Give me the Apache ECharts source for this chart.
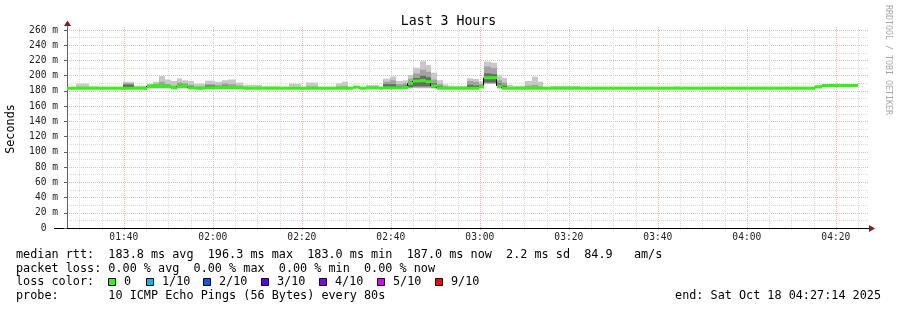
<!DOCTYPE html>
<html><head><meta charset="utf-8">
<script src="https://cdn.jsdelivr.net/npm/echarts@6/dist/echarts.min.js"></script>
<style>html,body{margin:0;padding:0;background:#fff}#c{width:897px;height:310px}</style>
</head><body><div id="c"></div>
<script>
// ---- data (x = minutes after midnight, y = milliseconds) ----
const axisStart = 87.2333;   // 01:27:14
const axisEnd = 267.2333;    // 04:27:14
const segStart = [87.23, 89.26, 92.18, 94.42, 99.82, 102.29, 105.21, 106.56, 107.91, 109.26,
  110.60, 111.95, 113.08, 114.43, 115.77, 118.24, 120.49, 122.06, 123.41, 125.21,
  126.78, 131.06, 135.10, 137.12, 139.82, 140.94, 143.64, 147.68, 149.03, 150.38,
  151.50, 153.08, 154.42, 157.34, 158.24, 159.82, 161.17, 162.74, 163.87, 164.99,
  166.56, 167.91, 169.03, 170.38, 171.73, 172.85, 174.42, 177.12, 178.47, 179.82,
  180.94, 182.51, 183.86, 184.99, 186.11, 187.46, 190.16, 191.73, 193.08, 194.20,
  195.78, 202.52, 223.64, 224.98, 255.32, 256.89];
const dataEnd = 264.98;
const median = [183.5, 183.5, 183.5, 183.5, 183.5, 183.5, 186.5, 187, 187, 186,
  184, 186.5, 186.5, 184, 183.5, 184, 184.5, 184.5, 184.5, 184,
  183.5, 183.5, 183.5, 183.5, 183.5, 183.5, 183.5, 183.5, 183.5, 183.5,
  185, 183.5, 184, 183.5, 184, 184, 184, 184.5, 190, 193,
  193.5, 192, 186.5, 183.5, 183.5, 183.5, 183.5, 183.5, 183.5, 185.5,
  197.4, 197.4, 186.5, 183.5, 183.5, 183.5, 183.5, 183.5, 183.5, 183.5,
  183.5, 183.5, 183.5, 183.5, 185.5, 187];
const pingLo = [182.5, 182.5, 182.5, 182.5, 182.5, 182.5, 183, 183, 183, 183,
  182.5, 183, 183, 182.5, 182.5, 182.5, 182.5, 182.5, 182.5, 182.5,
  182.5, 182.5, 182.5, 182.5, 182.5, 182.5, 182.5, 182.5, 182.5, 182.5,
  183, 182.5, 182.5, 182.5, 182.5, 182.5, 182.5, 182.5, 183, 183.5,
  183.5, 183.5, 183, 182.5, 182.5, 182.5, 182.5, 182.5, 182.5, 183,
  189, 189, 183, 182.5, 182.5, 182.5, 182.5, 182.5, 182.5, 182.5,
  182.5, 182.5, 182.5, 182.5, 183, 185];
const pingHi = [184, 189.5, 186, 184, 192, 187, 189, 192, 199.5, 195,
  193, 196.5, 194, 193, 189.5, 193.5, 192, 194, 195, 191,
  188, 186, 184, 189.5, 184, 191, 184, 190, 192, 184,
  186.5, 184, 188, 185, 196, 199, 193, 194, 201, 210.5,
  219, 214, 204, 194, 188.6, 187, 186.5, 196.6, 195.7, 192,
  218.4, 217, 200, 197, 188, 186.5, 193, 198.7, 192, 185,
  186.5, 184, 186, 184, 186.5, 188.5];
const midLo = [null, 182.5, null, null, 183, 183, 184, 184, 184, 184,
  183, 184, 184, 183, 183, 183, 183, 183, 183, 183,
  183, null, null, 183, null, 183, null, 183, 183, null,
  null, null, 183, null, 183, 183, 183, 183, 184, 184.5,
  184.5, 184.5, 184, 183, 183, null, null, 183, 183, 184,
  190, 190, 184, 183, 183, null, 183, 183, 183, null,
  null, null, null, null, null, null];
const midHi = [null, 185.5, null, null, 190, 185, 188, 189.5, 192, 189,
  187, 191, 190, 188, 186, 189, 188, 190, 189, 187,
  185, null, null, 185, null, 186, null, 186, 186.5, null,
  null, null, 185.5, null, 192, 194, 189, 190, 196, 203,
  208, 205, 195, 189, 186, null, null, 193, 192, 189,
  212, 210, 194, 191, 185, null, 187, 188, 186, null,
  null, null, null, null, null, null];
const coreLo = [null, null, null, null, 185, null, null, 185, 185, 185,
  null, 185, 185, 183.5, null, 184, 184, 184, 184, null,
  null, null, null, null, null, null, null, null, null, null,
  null, null, null, null, 184, 184, 184, 184, 185, 186,
  186, 186, 184.5, 183.5, null, null, null, 184, 184, 184.5,
  191, 191, 185, 184, null, null, null, null, null, null,
  null, null, null, null, null, null];
const coreHi = [null, null, null, null, 188.5, null, null, 188, 189, 187.5,
  null, 188.5, 188, 186, null, 187, 186, 187, 186.5, null,
  null, null, null, null, null, null, null, null, null, null,
  null, null, null, null, 189, 189, 186, 187, 192, 197,
  200, 198, 190, 186, null, null, null, 188, 187, 187,
  203, 202, 190, 187, null, null, null, null, null, null,
  null, null, null, null, null, null];
const xLabelTimes = [100, 120, 140, 160, 180, 200, 220, 240, 260];
const minorGridTimes = [90, 95, 105, 110, 115, 125, 130, 135, 145, 150, 155, 165, 170, 175,
  185, 190, 195, 205, 210, 215, 225, 230, 235, 245, 250, 255, 265];
const lossLabels = ['0', '1/10', '2/10', '3/10', '4/10', '5/10', '9/10'];
const lossColors = ['#26ff00', '#00b8ff', '#0059ff', '#5e00ff', '#7e00ff', '#dd00ff', '#ff0000'];
const statLines = [
  'median rtt:  183.8 ms avg  196.3 ms max  183.0 ms min  187.0 ms now  2.2 ms sd  84.9   am/s',
  'packet loss: 0.00 % avg  0.00 % max  0.00 % min  0.00 % now',
  'loss color:',
  'probe:       10 ICMP Echo Pings (56 Bytes) every 80s'
];
const endText = 'end: Sat Oct 18 04:27:14 2025';
const titleText = 'Last 3 Hours';

// ---- chart ----
const MONO = 'DejaVu Sans Mono';
const MAJOR = '#f0b4b4';
const MINOR = '#dadada';
const chart = echarts.init(document.getElementById('c'), null, {renderer: 'canvas'});
const n = segStart.length;
const segEnd = i => (i + 1 < n ? segStart[i + 1] : dataEnd);
const fmtTime = v => {
  const h = Math.floor(v / 60), m = Math.round(v - h * 60);
  return String(h).padStart(2, '0') + ':' + String(m).padStart(2, '0');
};

function gridSeries(times, color) {
  return {
    type: 'custom', silent: true, clip: false, z: 1, animation: false,
    data: times.map(t => [t, 0]),
    renderItem(params, api) {
      const t = api.value(0);
      const a = api.coord([t, 0]);
      const b = api.coord([t, 265]);
      const x = Math.round(a[0]) + 0.5;
      return {type: 'line', shape: {x1: x, y1: a[1] + 2, x2: x, y2: b[1]},
        style: {stroke: color, lineWidth: 1, lineDash: [1, 1]}};
    }
  };
}

function band(api, i, lo, hi, color) {
  if (lo == null || hi == null) return null;
  const a = api.coord([segStart[i], hi]);
  const b = api.coord([segEnd(i), lo]);
  return {type: 'rect', shape: {x: a[0], y: a[1], width: b[0] - a[0], height: b[1] - a[1]},
    style: {fill: color}};
}

const lossBoxX = [108, 146, 203, 261, 319, 377, 435];
const graphics = [
  {type: 'line', shape: {x1: 67.5, y1: 25, x2: 67.5, y2: 30}, style: {stroke: '#606060', lineWidth: 1}},
  {type: 'polygon', shape: {points: [[64, 26], [71, 26], [67.5, 20.5]]}, style: {fill: '#8b1a1a'}},
  {type: 'line', shape: {x1: 54, y1: 228.5, x2: 67, y2: 228.5}, style: {stroke: '#000', lineWidth: 1}},
  {type: 'line', shape: {x1: 867, y1: 228.5, x2: 870, y2: 228.5}, style: {stroke: '#000', lineWidth: 1}},
  {type: 'polygon', shape: {points: [[869, 225], [869, 232], [875, 228.5]]}, style: {fill: '#8b1a1a'}},
  {type: 'text', x: 888, y: 5, rotation: -Math.PI / 2,
    style: {text: 'RRDTOOL / TOBI OETIKER', fill: '#a8a8a8', font: '8.3px "' + MONO + '"',
      textAlign: 'left', textVerticalAlign: 'middle'}},
  {type: 'text', x: 881, y: 296,
    style: {text: endText, fill: '#000', font: '11.8px "' + MONO + '"', textAlign: 'right', textVerticalAlign: 'middle'}}
];
const lineY = [255, 268.5, 282, 296];
statLines.forEach((s, k) => {
  graphics.push({type: 'text', x: 16, y: lineY[k],
    style: {text: s, fill: '#000', font: '11.8px "' + MONO + '"', textAlign: 'left', textVerticalAlign: 'middle'}});
});
lossLabels.forEach((lab, k) => {
  graphics.push({type: 'rect', shape: {x: lossBoxX[k] + 0.5, y: 278.5, width: 7, height: 7},
    style: {fill: lossColors[k], stroke: '#000', lineWidth: 1}});
  graphics.push({type: 'text', x: lossBoxX[k] + 16, y: 282,
    style: {text: lab, fill: '#000', font: '11.8px "' + MONO + '"', textAlign: 'left', textVerticalAlign: 'middle'}});
});

chart.setOption({
  animation: false,
  backgroundColor: '#fff',
  title: {text: titleText, left: 'center', top: 10,
    textStyle: {fontFamily: MONO, fontSize: 13.2, fontWeight: 'normal', color: '#000'}},
  grid: {left: 67, right: 29, top: 30, bottom: 82, containLabel: false, outerBoundsMode: 'none'},
  xAxis: {
    type: 'value', min: axisStart, max: axisEnd,
    axisLine: {show: true, lineStyle: {color: '#000', width: 1}},
    axisTick: {show: false},
    splitLine: {show: false},
    axisLabel: {customValues: xLabelTimes, formatter: fmtTime, margin: 4,
      fontFamily: MONO, fontSize: 9.6, color: '#222'}
  },
  yAxis: {
    type: 'value', min: 0, max: 260, interval: 20,
    name: 'Seconds', nameLocation: 'middle', nameGap: 50, nameRotate: 90,
    nameTextStyle: {fontFamily: MONO, fontSize: 11.8, color: '#000'},
    axisLine: {show: true, lineStyle: {color: '#606060', width: 1}},
    axisTick: {show: true, length: 3, lineStyle: {color: '#606060'}},
    axisLabel: {formatter: v => (v === 0 ? '0  ' : v + ' m'), margin: 9,
      fontFamily: MONO, fontSize: 9.6, color: '#222'},
    splitLine: {show: true, lineStyle: {color: MAJOR, width: 1, type: [1, 1]}},
    minorTick: {show: false, splitNumber: 2},
    minorSplitLine: {show: true, lineStyle: {color: MINOR, width: 1, type: [1, 1]}}
  },
  graphic: graphics,
  series: [
    gridSeries(minorGridTimes, MINOR),
    gridSeries(xLabelTimes, MAJOR),
    {
      type: 'custom', silent: true, z: 2, clip: true,
      data: segStart.map((t, i) => [t, median[i]]),
      renderItem(params, api) {
        const i = params.dataIndex;
        const kids = [
          band(api, i, pingLo[i], pingHi[i], '#c8c8c8'),
          band(api, i, midLo[i], midHi[i], '#a2a2a2'),
          band(api, i, coreLo[i], coreHi[i], '#6a6a6a')
        ].filter(Boolean);
        return {type: 'group', children: kids};
      }
    },
    {
      type: 'custom', silent: true, z: 3, clip: true,
      data: segStart.map((t, i) => [t, median[i]]),
      renderItem(params, api) {
        const i = params.dataIndex;
        if (i === 0 || median[i] === median[i - 1]) return null;
        const a = api.coord([segStart[i], median[i - 1]]);
        const b = api.coord([segStart[i], median[i]]);
        const x = Math.round(a[0]) - 0.5;
        return {type: 'line', shape: {x1: x, y1: a[1], x2: x, y2: b[1]},
          style: {stroke: '#000', lineWidth: 1}};
      }
    },
    {
      type: 'custom', silent: true, z: 4, clip: true,
      data: segStart.map((t, i) => [t, median[i]]),
      renderItem(params, api) {
        const i = params.dataIndex;
        const a = api.coord([segStart[i], median[i]]);
        const b = api.coord([segEnd(i), median[i]]);
        return {type: 'line', shape: {x1: a[0], y1: a[1], x2: b[0], y2: b[1]},
          style: {stroke: lossColors[0], lineWidth: 3, lineCap: 'butt'}};
      }
    }
  ]
});
</script>
</body></html>
